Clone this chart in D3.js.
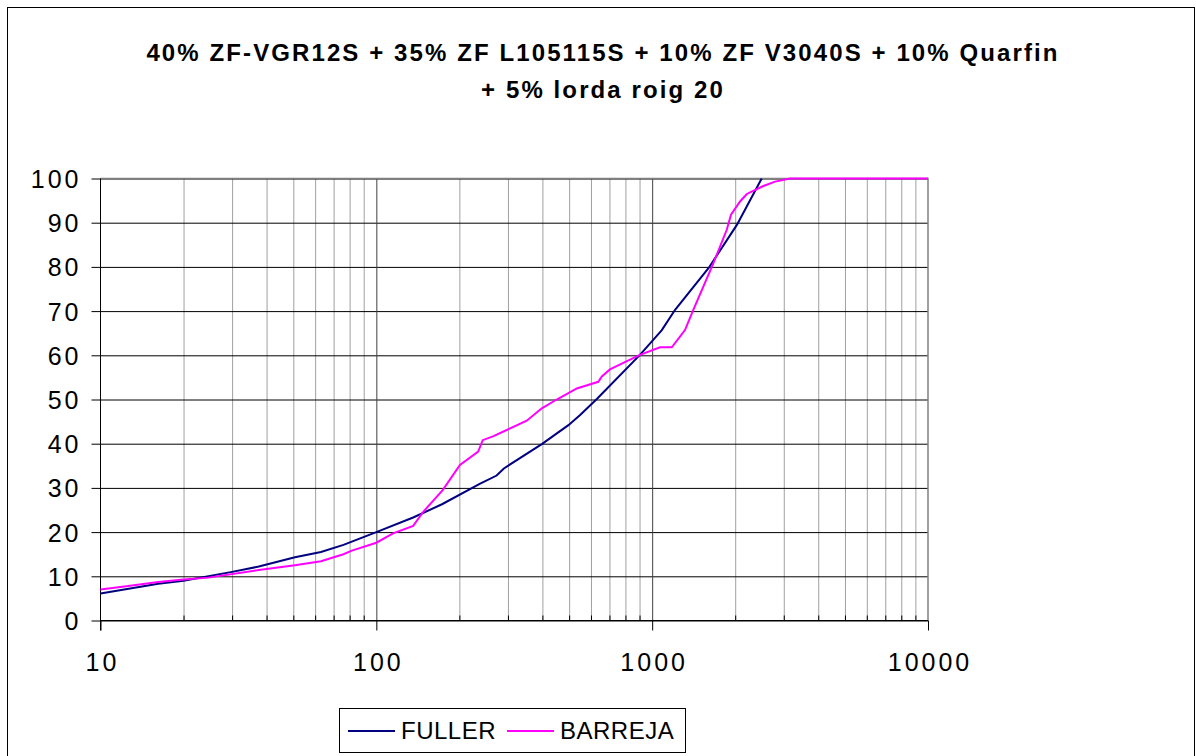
<!DOCTYPE html>
<html>
<head>
<meta charset="utf-8">
<script src="https://cdn.jsdelivr.net/npm/d3@7/dist/d3.min.js"></script>
<style>
  body { margin: 0; background: #fff; }
  svg { display: block; font-family: "Liberation Sans", Arial, sans-serif; }
</style>
</head>
<body>
<div id="chart"></div>
<script>
// chart data
var titleLines = ["40% ZF-VGR12S + 35% ZF L105115S + 10% ZF V3040S + 10% Quarfin", "+ 5% lorda roig 20"];
var seriesNames = ["FULLER", "BARREJA"];
var seriesColors = ["#000080", "#ff00ff"];

var fullerSize = [10, 16.2, 20, 30, 37.5, 50.7, 63, 76, 100, 136, 173, 237, 273, 290, 398, 497, 548, 630, 903, 1084, 1211, 1600, 2028, 2495];
var fullerPass = [6.1, 8.3, 9.0, 11.0, 12.2, 14.3, 15.5, 17.1, 20.0, 23.3, 26.3, 30.9, 32.8, 34.4, 39.9, 44.2, 46.5, 50.1, 60.1, 65.7, 70.3, 79.7, 89.5, 100];

var barrejaSize = [10, 12.6, 16.2, 20, 24.6, 37.5, 50.7, 63, 76, 81.5, 100, 115, 136, 148, 174, 201, 234, 243, 266, 297, 351, 398, 451, 533, 638, 657, 703, 786, 903, 1068, 1178, 1315, 1410, 1666, 1864, 1931, 2083, 2204, 2530, 2790, 3162, 10000];
var barrejaPass = [7.0, 7.8, 8.7, 9.3, 9.7, 11.4, 12.5, 13.4, 15.0, 15.8, 17.6, 19.7, 21.4, 24.6, 29.5, 35.2, 38.2, 40.8, 41.7, 43.1, 45.2, 48.0, 50.0, 52.5, 54.0, 55.2, 56.8, 58.3, 60.1, 61.8, 61.8, 65.7, 70.3, 80.8, 88.4, 91.8, 94.8, 96.5, 98.3, 99.3, 100, 100];

var yTicks = [0, 10, 20, 30, 40, 50, 60, 70, 80, 90, 100];
var xTicks = [10, 100, 1000, 10000];

var W = 1196, H = 756;
var plot = {left: 100.5, right: 928, top: 178.5, bottom: 620.5};
var numSpacing = 3;

var svg = d3.select("#chart").append("svg").attr("width", W).attr("height", H);

// outer chart border (bottom edge runs off the page)
svg.append("rect")
    .attr("x", 7.5).attr("y", 7.5)
    .attr("width", 1187).attr("height", 770)
    .attr("fill", "#fff").attr("stroke", "#000").attr("stroke-width", 1);

var x = d3.scaleLog().domain([10, 10000]).range([plot.left, plot.right]);
var y = d3.scaleLinear().domain([0, 100]).range([plot.bottom, plot.top]);

// title
svg.append("g").selectAll("text")
    .data(titleLines)
    .enter()
    .append("text")
    .attr("x", 603)
    .attr("y", function(d, i) { return 61 + i * 37; })
    .attr("text-anchor", "middle")
    .attr("font-size", 24)
    .attr("font-weight", "bold")
    .attr("letter-spacing", 2.1)
    .attr("fill", "#000")
    .text(function(d) { return d; });

// vertical grid: minor lines grey, decades darker
var minorX = x.ticks().filter(function(d) { return xTicks.indexOf(d) < 0; });
svg.append("g")
    .attr("transform", "translate(0," + plot.bottom + ")")
    .call(d3.axisBottom(x).tickValues(minorX).tickSize(-(plot.bottom - plot.top)).tickFormat(""))
    .call(function(g) {
        g.select(".domain").remove();
        g.selectAll("line").attr("stroke", "#a0a0a0");
    });

// horizontal grid
svg.append("g")
    .attr("transform", "translate(" + plot.left + ",0)")
    .call(d3.axisLeft(y).tickValues(yTicks).tickSize(-(plot.right - plot.left)).tickFormat(""))
    .call(function(g) {
        g.select(".domain").remove();
        g.selectAll("line").attr("stroke", "#000");
    });

svg.append("g")
    .attr("transform", "translate(0," + plot.bottom + ")")
    .call(d3.axisBottom(x).tickValues([100, 1000]).tickSize(-(plot.bottom - plot.top)).tickFormat(""))
    .call(function(g) {
        g.select(".domain").remove();
        g.selectAll("line").attr("stroke", "#404040");
    });

// plot area border, top and right
svg.append("path")
    .attr("d", "M" + plot.left + "," + plot.top + "H" + plot.right + "V" + plot.bottom)
    .attr("fill", "none").attr("stroke", "#808080").attr("stroke-width", 1.5);

// minor ticks pointing inwards
svg.append("g")
    .attr("transform", "translate(0," + plot.bottom + ")")
    .call(d3.axisBottom(x).tickValues(minorX).tickSize(-5).tickFormat(""))
    .call(function(g) {
        g.select(".domain").remove();
        g.selectAll("line").attr("stroke", "#000");
    });

// x axis
svg.append("g")
    .attr("transform", "translate(0," + plot.bottom + ")")
    .call(d3.axisBottom(x).tickValues(xTicks).tickSize(10).tickPadding(23).tickFormat(d3.format("d")))
    .call(function(g) {
        g.select(".domain").attr("stroke", "#000").attr("d", "M" + plot.left + ",0H" + plot.right);
        g.selectAll("line").attr("stroke", "#000");
        g.selectAll("text")
            .attr("font-size", 25)
            .attr("font-family", "Liberation Sans, Arial, sans-serif")
            .attr("letter-spacing", numSpacing)
            .attr("dx", numSpacing / 2)
            .attr("fill", "#000");
    });

// y axis
svg.append("g")
    .attr("transform", "translate(" + plot.left + ",0)")
    .call(d3.axisLeft(y).tickValues(yTicks).tickSize(9).tickPadding(13))
    .call(function(g) {
        g.select(".domain").attr("stroke", "#000").attr("d", "M0," + plot.top + "V" + (plot.bottom + 10));
        g.selectAll("line").attr("stroke", "#000");
        g.selectAll("text")
            .attr("font-size", 25)
            .attr("font-family", "Liberation Sans, Arial, sans-serif")
            .attr("letter-spacing", numSpacing)
            .attr("dx", numSpacing)
            .attr("fill", "#000")
            .attr("dy", "0.36em");
    });

// curves
var line = d3.line()
    .x(function(d) { return x(d[0]); })
    .y(function(d) { return y(d[1]); });

var series = [d3.zip(fullerSize, fullerPass), d3.zip(barrejaSize, barrejaPass)];

svg.append("g").selectAll("path")
    .data(series)
    .enter()
    .append("path")
    .attr("d", line)
    .attr("fill", "none")
    .attr("stroke", function(d, i) { return seriesColors[i]; })
    .attr("stroke-width", 2);

// legend
var legend = svg.append("g");
legend.append("rect")
    .attr("x", 339.5).attr("y", 708.5)
    .attr("width", 346).attr("height", 44)
    .attr("fill", "#fff").attr("stroke", "#000");

var item = legend.selectAll(".item")
    .data(seriesNames)
    .enter()
    .append("g")
    .attr("class", "item")
    .attr("transform", function(d, i) { return "translate(" + (348 + i * 159) + ",731)"; });

item.append("line")
    .attr("x1", 0).attr("x2", 47)
    .attr("stroke", function(d, i) { return seriesColors[i]; })
    .attr("stroke-width", 2);

item.append("text")
    .attr("x", 53)
    .attr("y", 8)
    .attr("font-size", 24)
    .attr("letter-spacing", 0.5)
    .attr("fill", "#000")
    .text(function(d) { return d; });
</script>
</body>
</html>
